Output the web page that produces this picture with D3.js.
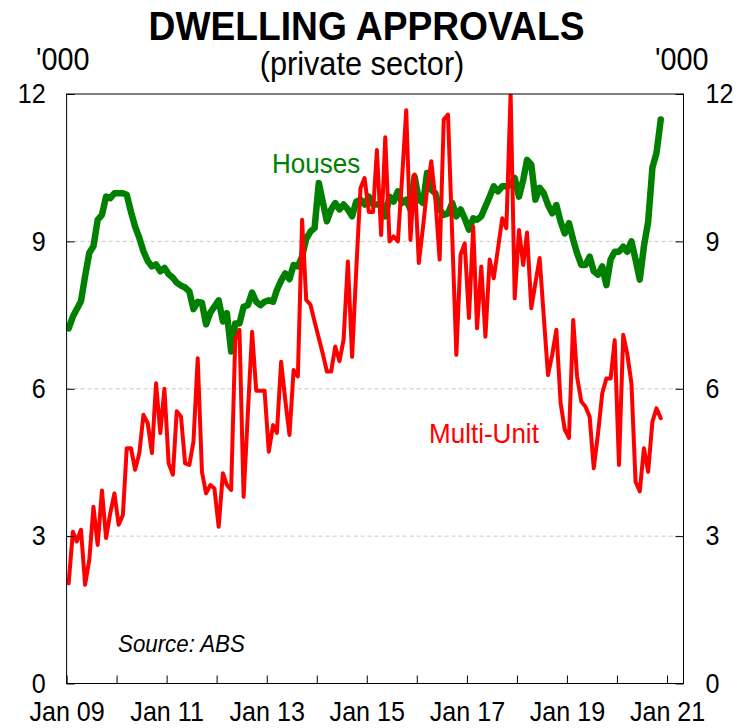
<!DOCTYPE html>
<html>
<head>
<meta charset="utf-8">
<script src="https://cdn.jsdelivr.net/npm/d3@7"></script>
<style>
  html, body { margin: 0; padding: 0; background: #fff; }
  svg { display: block; font-family: "Liberation Sans", Arial, sans-serif; }
</style>
</head>
<body>
<svg id="chart" width="743" height="728"></svg>
<script>
// Private sector dwelling approvals, monthly, '000 (Jan 2009 - Nov 2020)
const houses = [
  7.23, 7.47, 7.62, 7.78, 8.29, 8.77, 8.90, 9.44, 9.54, 9.91, 9.88, 9.98,
  9.98, 9.98, 9.95, 9.60, 9.30, 9.07, 8.80, 8.60, 8.49, 8.53, 8.39, 8.46,
  8.33, 8.26, 8.16, 8.10, 8.06, 7.98, 7.62, 7.77, 7.75, 7.31, 7.55, 7.67,
  7.80, 7.37, 7.54, 6.76, 7.33, 7.33, 7.67, 7.70, 7.96, 7.77, 7.70, 7.77,
  7.80, 7.77, 8.01, 8.20, 8.35, 8.23, 8.52, 8.49, 8.69, 9.05, 9.20, 9.27,
  10.19, 9.78, 9.41, 9.65, 9.78, 9.65, 9.75, 9.65, 9.51, 9.81, 9.85, 9.75,
  9.91, 9.75, 9.75, 9.78, 9.51, 9.91, 9.81, 10.02, 9.78, 9.85, 9.65, 10.32,
  9.85, 9.78, 10.39, 10.05, 9.98, 9.65, 9.54, 9.57, 9.78, 9.51, 9.65, 9.47,
  9.24, 9.47, 9.44, 9.51, 9.71, 9.91, 10.12, 10.02, 10.12, 10.12, 10.15, 10.29,
  9.91, 10.25, 10.66, 10.56, 9.85, 10.09, 9.98, 9.74, 9.57, 9.74, 9.40, 9.16,
  9.37, 9.03, 8.76, 8.52, 8.52, 8.69, 8.39, 8.32, 8.49, 8.11, 8.63, 8.79,
  8.79, 8.89, 8.79, 9.00, 8.63, 8.22, 8.90, 9.40, 10.50, 10.80, 11.48
];
const multiUnit = [
  2.04, 3.09, 2.89, 3.13, 2.01, 2.52, 3.60, 2.82, 3.93, 2.96, 3.47, 3.87,
  3.23, 3.43, 4.79, 4.79, 4.35, 4.69, 5.47, 5.30, 4.69, 6.11, 5.10, 6.00,
  4.48, 4.25, 5.54, 5.43, 4.48, 4.45, 4.92, 6.62, 4.31, 3.87, 4.04, 3.97,
  3.19, 4.28, 4.04, 3.94, 7.00, 7.20, 3.80, 5.50, 7.16, 5.96, 5.96, 5.96,
  4.72, 5.26, 5.10, 6.55, 5.77, 5.06, 6.38, 6.25, 9.44, 7.81, 7.71, 7.37,
  7.03, 6.69, 6.35, 6.35, 6.86, 6.56, 7.00, 8.59, 6.65, 8.40, 10.08, 10.29,
  9.60, 9.60, 10.86, 9.13, 11.12, 9.00, 9.10, 9.00, 10.30, 11.67, 9.03, 10.36,
  8.56, 9.30, 10.05, 10.63, 9.85, 8.63, 11.48, 11.58, 9.10, 6.69, 8.73, 8.96,
  7.44, 9.30, 7.23, 8.49, 7.06, 8.63, 8.25, 8.86, 9.47, 9.27, 12.02, 7.84,
  9.23, 8.52, 9.18, 7.64, 8.15, 8.66, 7.47, 6.28, 6.70, 7.20, 5.71, 5.17,
  5.00, 7.40, 6.25, 5.74, 5.64, 5.43, 4.38, 5.09, 5.91, 6.21, 6.21, 6.99,
  4.45, 7.10, 6.72, 6.11, 4.11, 3.91, 4.79, 4.31, 5.33, 5.60, 5.40
];
// One observation per month, plotted mid-month
const months = d3.range(houses.length).map(i => new Date(2009, i, 16));

const yTicks = [0, 3, 6, 9, 12];
const xTickLabels = ["Jan 09", "Jan 11", "Jan 13", "Jan 15", "Jan 17", "Jan 19", "Jan 21"];
const yearTicks = d3.timeYear.range(new Date(2009, 0, 1), new Date(2021, 1, 1));

const plot = { left: 66.6, right: 683.5, top: 94, bottom: 683.5 };
const SX = 0.93; // slight horizontal squeeze of the lettering

const svg = d3.select("#chart");

const x = d3.scaleTime()
  .domain([new Date(2009, 0, 1), new Date(2021, 4, 1)])
  .range([plot.left, plot.right]);
const y = d3.scaleLinear().domain([0, 12]).range([plot.bottom, plot.top]);

// Narrow the glyphs while keeping each label anchored at its point
function squeeze(sel) {
  sel.each(function () {
    const t = d3.select(this);
    const ax = +(t.attr("x") || 0);
    t.attr("x", ax / SX).attr("transform", `scale(${SX},1)`);
  });
}
function label(txt, px, py, opts) {
  const g = svg.append("g").attr("transform", `translate(${px},${py}) scale(${SX},1)`);
  const t = g.append("text").text(txt)
    .attr("font-size", opts.size)
    .attr("text-anchor", opts.anchor || "start")
    .attr("fill", opts.fill || "#000");
  if (opts.weight) t.attr("font-weight", opts.weight);
  if (opts.style) t.attr("font-style", opts.style);
  return t;
}

// Horizontal reference lines
svg.append("g")
  .selectAll("line")
  .data(yTicks.filter(v => v > 0 && v < 12))
  .join("line")
  .attr("x1", plot.left).attr("x2", plot.right)
  .attr("y1", d => y(d)).attr("y2", d => y(d))
  .attr("stroke", "#c8c8c8").attr("stroke-width", 1)
  .attr("stroke-dasharray", "4,3");

// Series
svg.append("clipPath").attr("id", "plotClip")
  .append("rect")
  .attr("x", plot.left).attr("y", plot.top)
  .attr("width", plot.right - plot.left).attr("height", plot.bottom - plot.top);

const line = d3.line().x((d, i) => x(months[i])).y(d => y(d));
const series = svg.append("g").attr("clip-path", "url(#plotClip)");
series.append("path").datum(houses)
  .attr("d", line).attr("fill", "none")
  .attr("stroke", "#008000").attr("stroke-width", 6.5)
  .attr("stroke-linejoin", "round").attr("stroke-linecap", "round");
series.append("path").datum(multiUnit)
  .attr("d", line).attr("fill", "none")
  .attr("stroke", "#ff0000").attr("stroke-width", 4)
  .attr("stroke-linejoin", "round").attr("stroke-linecap", "round");

// Axes (ticks point inward)
const axisFont = 27;
const left = svg.append("g").attr("transform", `translate(${plot.left},0)`)
  .call(d3.axisLeft(y).tickValues(yTicks).tickSize(-8).tickPadding(21).tickFormat(d3.format("d")));
const right = svg.append("g").attr("transform", `translate(${plot.right},0)`)
  .call(d3.axisRight(y).tickValues(yTicks).tickSize(-8).tickPadding(22).tickFormat(d3.format("d")));
const bottom = svg.append("g").attr("transform", `translate(0,${plot.bottom})`)
  .call(d3.axisBottom(x).tickValues(yearTicks).tickSize(-8).tickPadding(18)
    .tickFormat((d, i) => (i % 2 === 0 ? xTickLabels[i / 2] : "")));

[left, right, bottom].forEach(g => {
  g.select(".domain").remove();
  g.selectAll(".tick line").attr("stroke", "#000");
  g.selectAll("text")
    .attr("font-family", "'Liberation Sans', Arial, sans-serif")
    .attr("font-size", axisFont).attr("fill", "#000")
    .call(squeeze);
});

// Frame
svg.append("rect")
  .attr("x", plot.left).attr("y", plot.top)
  .attr("width", plot.right - plot.left).attr("height", plot.bottom - plot.top)
  .attr("fill", "none").attr("stroke", "#000").attr("stroke-width", 1);

// Titles and labels
label("DWELLING APPROVALS", 366.5, 40, { size: 40, anchor: "middle", weight: "bold" });
label("(private sector)", 362, 75, { size: 33, anchor: "middle" });
label("'000", 36, 70, { size: 31 });
label("'000", 655, 70, { size: 31 });
label("Houses", 272, 173, { size: 28, fill: "#008000" });
label("Multi-Unit", 429, 443, { size: 28, fill: "#ff0000" });
label("Source: ABS", 118, 652, { size: 24, style: "italic" });
</script>
</body>
</html>
